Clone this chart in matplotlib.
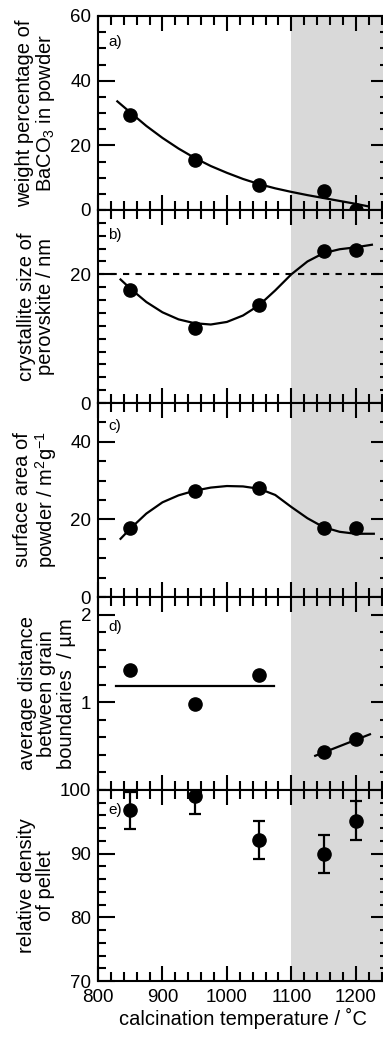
import matplotlib
matplotlib.use('Agg')
import matplotlib.pyplot as plt
from matplotlib.ticker import MultipleLocator, FixedLocator

plt.rcParams['font.family'] = ['Liberation Sans', 'DejaVu Sans']
plt.rcParams['mathtext.default'] = 'regular'

# calcination temperatures (deg C)
temps = [850, 950, 1050, 1150, 1200]

# a) BaCO3 content in powder (wt%) and fitted curve
baco3 = [29.4, 15.5, 7.7, 6.0, 0.0]
baco3_fit_t = [830, 850, 875, 900, 925, 950, 975, 1000, 1025, 1050, 1075, 1100, 1125, 1150, 1175, 1200, 1220]
baco3_fit = [33.6, 30.2, 26.0, 22.3, 19.0, 16.1, 13.6, 11.5, 9.6, 8.0, 6.7, 5.6, 4.6, 3.7, 2.8, 1.9, 1.1]

# b) crystallite size of perovskite (nm)
cryst = [17.6, 11.7, 15.3, 23.7, 23.8]
cryst_fit_t = [835, 850, 875, 900, 925, 950, 975, 1000, 1025, 1050, 1075, 1100, 1125, 1150, 1175, 1200, 1225]
cryst_fit = [19.2, 17.8, 15.7, 14.1, 13.0, 12.4, 12.2, 12.6, 13.6, 15.2, 17.5, 20.0, 22.0, 23.3, 23.9, 24.2, 24.6]
cryst_ref = 20

# c) surface area of powder (m2/g)
area = [17.7, 27.4, 28.0, 17.7, 17.7]
area_fit_t = [835, 850, 875, 900, 925, 950, 975, 1000, 1025, 1050, 1075, 1100, 1125, 1150, 1175, 1200, 1228]
area_fit = [15.0, 17.6, 21.5, 24.4, 26.2, 27.4, 28.2, 28.6, 28.5, 27.9, 26.3, 23.2, 20.3, 18.0, 16.8, 16.3, 16.3]

# d) average distance between grain boundaries (um)
grain = [1.37, 0.985, 1.31, 0.43, 0.58]
grain_low_t = [828, 1073]
grain_low = [1.19, 1.19]
grain_high_t = [1137, 1222]
grain_high = [0.39, 0.635]

# e) relative density of pellet (%)
density = [96.8, 99.1, 92.2, 89.9, 95.2]
density_err = [2.9, 2.8, 3.0, 3.0, 3.0]

W, H = 383, 1037
fig = plt.figure(figsize=(W / 100, H / 100), dpi=100)

left, right = 98, 388
edges = [16, 210, 403, 597, 790, 981]
axes = []
for i in range(5):
    top, bot = edges[i], edges[i + 1]
    ax = fig.add_axes([left / W, 1 - bot / H, (right - left) / W, (bot - top) / H])
    axes.append(ax)

ylims = [(0, 60), (0, 30), (0, 50), (0, 2.2), (70, 100)]
ymajor = [[0, 20, 40, 60], [0, 20], [0, 20, 40], [1, 2], [70, 80, 90, 100]]
yminor = [5, 2, 5, 0.2, 2]
ylabels = [
    'weight percentage of\nBaCO$_3$ in powder',
    'crystallite size of\nperovskite / nm',
    'surface area of\npowder / m$^2$g$^{-1}$',
    'average distance\nbetween grain\nboundaries  / \u00b5m',
    'relative density\nof pellet',
]
label_x = [36, 36, 36, 47, 36]
tags = ['a)', 'b)', 'c)', 'd)', 'e)']
tag_dy = [26, 25, 23, 30, 20]

for i, ax in enumerate(axes):
    ax.axvspan(1100, 1250, color='#d9d9d9', lw=0, zorder=0)
    ax.set_xlim(800, 1250)
    ax.set_ylim(*ylims[i])
    ax.xaxis.set_major_locator(MultipleLocator(100))
    ax.xaxis.set_minor_locator(MultipleLocator(20))
    ax.yaxis.set_major_locator(FixedLocator(ymajor[i]))
    ax.yaxis.set_minor_locator(MultipleLocator(yminor[i]))
    ax.tick_params(which='both', direction='in', top=True, right=True, width=1.5,
                   labelsize=13.5, pad=5)
    ax.tick_params(axis='y', which='major', length=12)
    ax.tick_params(axis='y', which='minor', length=5.8)
    ax.tick_params(axis='x', which='major', length=10.5, pad=5.5)
    ax.tick_params(axis='x', which='minor', length=6.3)
    if i < 4:
        ax.tick_params(axis='x', labelbottom=False)
    for s in ax.spines.values():
        s.set_linewidth(1.5)
    top, bot = edges[i], edges[i + 1]
    fig.text(label_x[i] / W, 1 - (top + bot) / 2 / H, ylabels[i], rotation=90,
             ha='center', va='center', multialignment='center', fontsize=14.5,
             linespacing=1.05)
    ax.text(10 / (right - left), 1 - tag_dy[i] / (bot - top), tags[i],
            transform=ax.transAxes, ha='left', va='center', fontsize=11)

dot = dict(color='black', marker='o', ms=9.5, ls='none', zorder=4, clip_on=False)
line = dict(color='black', lw=1.6, zorder=3)

axes[0].plot(baco3_fit_t, baco3_fit, **line)
axes[0].plot(temps, baco3, **dot)

axes[1].axhline(cryst_ref, color='black', lw=1.5, dashes=(3, 3), zorder=2)
axes[1].plot(cryst_fit_t, cryst_fit, **line)
axes[1].plot(temps, cryst, **dot)

axes[2].plot(area_fit_t, area_fit, **line)
axes[2].plot(temps, area, **dot)

axes[3].plot(grain_low_t, grain_low, **line)
axes[3].plot(grain_high_t, grain_high, **line)
axes[3].plot(temps, grain, **dot)

axes[4].errorbar(temps, density, yerr=density_err, fmt='o', color='black', ms=9.5,
                 elinewidth=1.6, capsize=4.5, capthick=1.6, zorder=4)
axes[4].set_xlabel('calcination temperature / \u02daC', fontsize=14.5, labelpad=2)

fig.savefig('out.png', dpi=100)
